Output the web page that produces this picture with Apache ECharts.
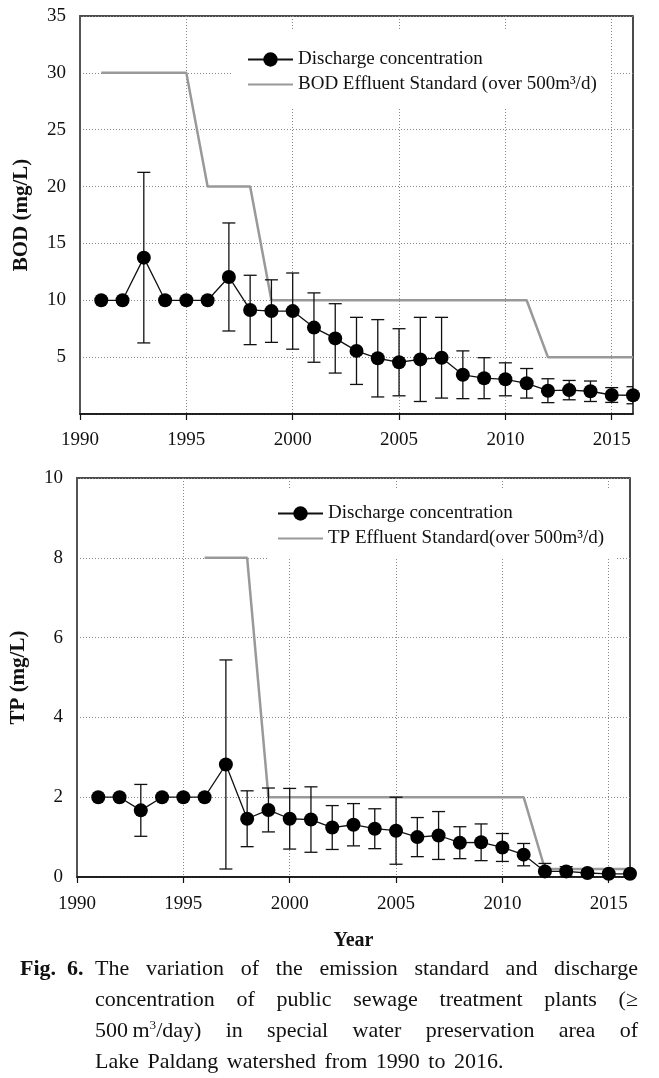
<!DOCTYPE html>
<html>
<head>
<meta charset="utf-8">
<script src="https://cdn.jsdelivr.net/npm/echarts@6/dist/echarts.min.js"></script>
<style>
  html, body { margin: 0; padding: 0; background: #fff; }
  #chart { position: absolute; left: 0; top: 0; width: 659px; height: 1078px; }
  .caption { position: absolute; left: 0; top: 952px; width: 659px;
    font-family: "Liberation Serif", "Times New Roman", serif; font-size: 22px; line-height: 31px; color: #111; }
  .caption .fig { position: absolute; left: 20px; top: 0; font-weight: bold; }
  .caption .body { position: absolute; left: 95px; width: 543px; top: 0; }
  .caption .ln { text-align: justify; text-align-last: justify; white-space: nowrap; }
  .caption .ln.last { text-align-last: left; word-spacing: 3px; }
  .caption sup { font-size: 0.6em; vertical-align: 0.6em; line-height: 0; }
</style>
</head>
<body>
<div id="chart"></div>
<div class="caption">
  <div class="fig">Fig.&nbsp; 6.</div>
  <div class="body">
    <div class="ln">The variation of the emission standard and discharge</div>
    <div class="ln">concentration of public sewage treatment plants (≥</div>
    <div class="ln">500&#8201;m<sup>3</sup>/day) in special water preservation area of</div>
    <div class="ln last">Lake Paldang watershed from 1990 to 2016.</div>
  </div>
</div>
<script>
  // 연도별 값
  var years = [1991, 1992, 1993, 1994, 1995, 1996, 1997, 1998, 1999, 2000, 2001, 2002, 2003,
    2004, 2005, 2006, 2007, 2008, 2009, 2010, 2011, 2012, 2013, 2014, 2015, 2016];

  // BOD 방류농도 평균, 표준편차
  var bodMean = [10, 10, 13.75, 10, 10, 10, 12.05, 9.15, 9.05, 9.05, 7.6, 6.65, 5.55,
    4.9, 4.55, 4.8, 4.95, 3.45, 3.15, 3.05, 2.7, 2.05, 2.1, 2.0, 1.67, 1.65];
  var bodSd = [0, 0, 7.5, 0, 0, 0, 4.75, 3.05, 2.75, 3.35, 3.05, 3.05, 2.95,
    3.4, 2.95, 3.7, 3.55, 2.1, 1.8, 1.45, 1.3, 1.05, 0.85, 0.9, 0.65, 0.75];

  // TP 방류농도 평균, 표준편차
  var tpMean = [2.0, 2.0, 1.67, 2.0, 2.0, 2.0, 2.82, 1.46, 1.68, 1.46, 1.44, 1.24, 1.31,
    1.21, 1.16, 1.0, 1.04, 0.86, 0.87, 0.74, 0.56, 0.14, 0.14, 0.10, 0.08, 0.08];
  var tpSd = [0, 0, 0.65, 0, 0, 0, 2.62, 0.7, 0.55, 0.76, 0.82, 0.55, 0.53,
    0.5, 0.84, 0.49, 0.6, 0.4, 0.46, 0.35, 0.28, 0.2, 0.12, 0.05, 0.04, 0.03];

  // 방류수 수질기준
  var bodStdYears = [1991, 1995, 1996, 1998, 1999, 2011, 2012, 2016];
  var bodStdValues = [30, 30, 20, 20, 10, 10, 5, 5];
  var tpStdYears = [1996, 1998, 1999, 2011, 2012, 2016];
  var tpStdValues = [8, 8, 2, 2, 0.2, 0.2];

  // 눈금
  var yearTicks = [1990, 1995, 2000, 2005, 2010, 2015];
  var bodTicks = [5, 10, 15, 20, 25, 30, 35];
  var tpTicks = [0, 2, 4, 6, 8, 10];

  var concName = 'Discharge concentration';
  var bodStdName = 'BOD Effluent Standard (over 500m³/d)';
  var tpStdName = 'TP Effluent Standard(over 500m³/d)';

  var serif = '"Liberation Serif", "Times New Roman", serif';

  function pairs(xs, ys) {
    return xs.map(function (x, i) { return [x, ys[i]]; });
  }
  function errRows(mean, sd) {
    var out = [];
    years.forEach(function (y, i) {
      if (sd[i] > 0) out.push([y, mean[i] - sd[i], mean[i] + sd[i]]);
    });
    return out;
  }

  function errorBarItem(params, api) {
    var x = api.value(0);
    var lo = api.coord([x, api.value(1)]);
    var hi = api.coord([x, api.value(2)]);
    var w = 6.5;
    var st = { stroke: '#111', lineWidth: 1.3 };
    return {
      type: 'group',
      children: [
        { type: 'line', shape: { x1: lo[0], y1: lo[1], x2: hi[0], y2: hi[1] }, style: st },
        { type: 'line', shape: { x1: hi[0] - w, y1: hi[1], x2: hi[0] + w, y2: hi[1] }, style: st },
        { type: 'line', shape: { x1: lo[0] - w, y1: lo[1], x2: lo[0] + w, y2: lo[1] }, style: st }
      ]
    };
  }

  function xAxisFor(idx, withName, margin) {
    return {
      type: 'value', gridIndex: idx, min: 1990, max: 2016, interval: 5,
      name: withName ? 'Year' : '',
      nameLocation: 'middle', nameGap: 54,
      nameTextStyle: { fontFamily: serif, fontSize: 20, fontWeight: 'bold', color: '#111' },
      axisLine: { show: true, onZero: false, lineStyle: { color: '#111', width: 1.5 } },
      axisTick: { show: true, length: 6, customValues: yearTicks, lineStyle: { color: '#111', width: 1.2 } },
      axisLabel: {
        customValues: yearTicks, margin: margin, fontFamily: serif, fontSize: 19, color: '#111',
        formatter: function (v) { return String(v); }
      },
      splitLine: { show: true, lineStyle: { color: '#888', width: 1, type: [1, 2] } }
    };
  }

  function yAxisFor(idx, name, max, interval, hideZero) {
    return {
      type: 'value', gridIndex: idx, min: 0, max: max, interval: interval,
      name: name, nameLocation: 'middle', nameGap: 48,
      nameTextStyle: { fontFamily: serif, fontSize: 21, fontWeight: 'bold', color: '#111' },
      axisLine: { show: true, lineStyle: { color: '#555', width: 2 } },
      axisTick: { show: false },
      axisLabel: {
        margin: 14, fontFamily: serif, fontSize: 19, color: '#111',
        formatter: function (v) { return (hideZero && v === 0) ? '' : String(v); }
      },
      splitLine: { show: true, lineStyle: { color: '#888', width: 1, type: [1, 2] } }
    };
  }

  function legendFor(stdName, left, top, padding) {
    return {
      data: [
        { name: concName },
        { name: stdName, itemStyle: { color: 'rgba(0,0,0,0)', borderWidth: 0 } }
      ],
      orient: 'vertical', left: left, top: top,
      padding: padding, itemGap: 6, itemWidth: 45, itemHeight: 18,
      backgroundColor: '#fff',
      textStyle: { fontFamily: serif, fontSize: 19, color: '#111' },
      selectedMode: false
    };
  }

  var chart = echarts.init(document.getElementById('chart'), null, { renderer: 'canvas' });

  var option = {
    animation: false,
    backgroundColor: '#fff',
    grid: [
      { left: 80, top: 16, width: 553, height: 398, show: true, borderColor: '#111', borderWidth: 1.5, backgroundColor: 'transparent' },
      { left: 77, top: 478, width: 553, height: 399, show: true, borderColor: '#111', borderWidth: 1.5, backgroundColor: 'transparent' }
    ],
    xAxis: [xAxisFor(0, false, 17), xAxisFor(1, true, 18)],
    yAxis: [
      yAxisFor(0, 'BOD (mg/L)', 35, 5, true),
      yAxisFor(1, 'TP (mg/L)', 10, 2, false)
    ],
    legend: [
      legendFor(bodStdName, 233, 30, [20, 13, 13, 14]),
      legendFor(tpStdName, 267, 490, [14, 13, 11, 10])
    ],
    series: [
      {
        name: bodStdName, type: 'line', xAxisIndex: 0, yAxisIndex: 0, z: 2,
        data: pairs(bodStdYears, bodStdValues), symbol: 'none',
        lineStyle: { color: '#999', width: 2.5 }, itemStyle: { color: 'rgba(0,0,0,0)' }
      },
      {
        type: 'custom', xAxisIndex: 0, yAxisIndex: 0, z: 3, clip: true,
        renderItem: errorBarItem, encode: { x: 0, y: [1, 2] },
        data: errRows(bodMean, bodSd)
      },
      {
        name: concName, type: 'line', xAxisIndex: 0, yAxisIndex: 0, z: 4,
        data: pairs(years, bodMean), symbol: 'circle', symbolSize: 14,
        lineStyle: { color: '#111', width: 1.3 }, itemStyle: { color: '#000' }
      },
      {
        name: tpStdName, type: 'line', xAxisIndex: 1, yAxisIndex: 1, z: 2,
        data: pairs(tpStdYears, tpStdValues), symbol: 'none',
        lineStyle: { color: '#999', width: 2.5 }, itemStyle: { color: 'rgba(0,0,0,0)' }
      },
      {
        type: 'custom', xAxisIndex: 1, yAxisIndex: 1, z: 3, clip: true,
        renderItem: errorBarItem, encode: { x: 0, y: [1, 2] },
        data: errRows(tpMean, tpSd)
      },
      {
        name: concName, type: 'line', xAxisIndex: 1, yAxisIndex: 1, z: 4,
        data: pairs(years, tpMean), symbol: 'circle', symbolSize: 14,
        lineStyle: { color: '#111', width: 1.3 }, itemStyle: { color: '#000' }
      }
    ]
  };

  chart.setOption(option);
</script>
</body>
</html>
